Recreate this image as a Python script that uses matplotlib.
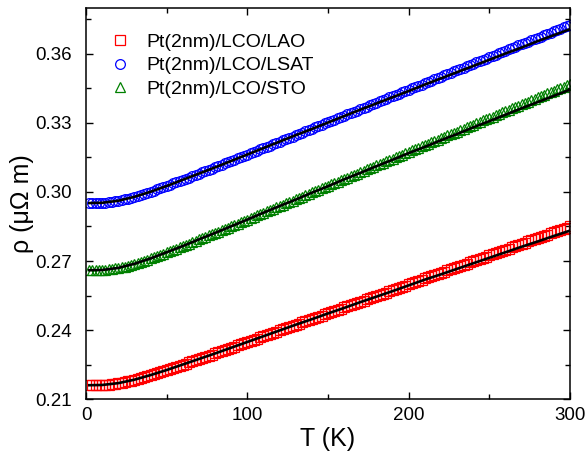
import matplotlib
matplotlib.use('Agg')
import matplotlib.pyplot as plt
from matplotlib.ticker import MultipleLocator, FormatStrFormatter

plt.rcParams['font.family'] = ['Liberation Sans', 'DejaVu Sans']

# temperature grid of the measured points (K)
T = list(range(2, 301, 2))

# resistivity (uOhm m)
rho_lao = [
    0.2160, 0.2160, 0.2160, 0.2161, 0.2161, 0.2162, 0.2163, 0.2165, 0.2167, 0.2169,
    0.2171, 0.2174, 0.2177, 0.2180, 0.2184, 0.2188, 0.2191, 0.2195, 0.2200, 0.2204,
    0.2208, 0.2212, 0.2217, 0.2221, 0.2226, 0.2231, 0.2235, 0.2240, 0.2245, 0.2250,
    0.2254, 0.2259, 0.2264, 0.2269, 0.2274, 0.2279, 0.2284, 0.2288, 0.2293, 0.2298,
    0.2303, 0.2308, 0.2313, 0.2318, 0.2323, 0.2328, 0.2333, 0.2338, 0.2343, 0.2348,
    0.2353, 0.2358, 0.2363, 0.2368, 0.2373, 0.2378, 0.2383, 0.2388, 0.2393, 0.2398,
    0.2403, 0.2408, 0.2413, 0.2418, 0.2423, 0.2428, 0.2433, 0.2438, 0.2443, 0.2448,
    0.2453, 0.2458, 0.2463, 0.2468, 0.2473, 0.2478, 0.2483, 0.2488, 0.2493, 0.2498,
    0.2503, 0.2508, 0.2513, 0.2518, 0.2523, 0.2528, 0.2533, 0.2538, 0.2543, 0.2548,
    0.2553, 0.2558, 0.2563, 0.2568, 0.2573, 0.2578, 0.2583, 0.2588, 0.2593, 0.2599,
    0.2604, 0.2609, 0.2614, 0.2619, 0.2624, 0.2629, 0.2634, 0.2639, 0.2644, 0.2649,
    0.2654, 0.2659, 0.2664, 0.2669, 0.2674, 0.2679, 0.2684, 0.2689, 0.2694, 0.2699,
    0.2704, 0.2709, 0.2714, 0.2719, 0.2724, 0.2729, 0.2734, 0.2739, 0.2744, 0.2749,
    0.2754, 0.2759, 0.2765, 0.2770, 0.2775, 0.2780, 0.2785, 0.2790, 0.2795, 0.2800,
    0.2805, 0.2810, 0.2815, 0.2820, 0.2825, 0.2830, 0.2835, 0.2840, 0.2845, 0.2850,
]
rho_lsat = [
    0.2952, 0.2952, 0.2952, 0.2953, 0.2953, 0.2954, 0.2956, 0.2957, 0.2959, 0.2962,
    0.2965, 0.2968, 0.2971, 0.2975, 0.2979, 0.2983, 0.2987, 0.2992, 0.2996, 0.3001,
    0.3006, 0.3011, 0.3016, 0.3021, 0.3026, 0.3031, 0.3037, 0.3042, 0.3047, 0.3053,
    0.3058, 0.3063, 0.3069, 0.3074, 0.3080, 0.3085, 0.3091, 0.3096, 0.3102, 0.3107,
    0.3113, 0.3118, 0.3124, 0.3129, 0.3135, 0.3141, 0.3146, 0.3152, 0.3157, 0.3163,
    0.3169, 0.3174, 0.3180, 0.3185, 0.3191, 0.3197, 0.3202, 0.3208, 0.3213, 0.3219,
    0.3225, 0.3230, 0.3236, 0.3241, 0.3247, 0.3253, 0.3258, 0.3264, 0.3270, 0.3275,
    0.3281, 0.3287, 0.3292, 0.3298, 0.3303, 0.3309, 0.3315, 0.3320, 0.3326, 0.3332,
    0.3337, 0.3343, 0.3349, 0.3354, 0.3360, 0.3365, 0.3371, 0.3377, 0.3382, 0.3388,
    0.3394, 0.3399, 0.3405, 0.3411, 0.3416, 0.3422, 0.3428, 0.3433, 0.3439, 0.3444,
    0.3450, 0.3456, 0.3461, 0.3467, 0.3473, 0.3478, 0.3484, 0.3490, 0.3495, 0.3501,
    0.3507, 0.3512, 0.3518, 0.3524, 0.3529, 0.3535, 0.3541, 0.3546, 0.3552, 0.3557,
    0.3563, 0.3569, 0.3574, 0.3580, 0.3586, 0.3591, 0.3597, 0.3603, 0.3608, 0.3614,
    0.3620, 0.3625, 0.3631, 0.3637, 0.3642, 0.3648, 0.3654, 0.3659, 0.3665, 0.3671,
    0.3676, 0.3682, 0.3687, 0.3693, 0.3699, 0.3704, 0.3710, 0.3716, 0.3721, 0.3727,
]
rho_sto = [
    0.2660, 0.2660, 0.2660, 0.2661, 0.2661, 0.2662, 0.2664, 0.2666, 0.2668, 0.2670,
    0.2673, 0.2676, 0.2680, 0.2684, 0.2688, 0.2692, 0.2697, 0.2702, 0.2706, 0.2711,
    0.2716, 0.2722, 0.2727, 0.2732, 0.2738, 0.2743, 0.2749, 0.2754, 0.2760, 0.2765,
    0.2771, 0.2776, 0.2782, 0.2788, 0.2794, 0.2799, 0.2805, 0.2811, 0.2817, 0.2822,
    0.2828, 0.2834, 0.2840, 0.2845, 0.2851, 0.2857, 0.2863, 0.2869, 0.2875, 0.2880,
    0.2886, 0.2892, 0.2898, 0.2904, 0.2910, 0.2916, 0.2921, 0.2927, 0.2933, 0.2939,
    0.2945, 0.2951, 0.2957, 0.2963, 0.2968, 0.2974, 0.2980, 0.2986, 0.2992, 0.2998,
    0.3004, 0.3010, 0.3016, 0.3021, 0.3027, 0.3033, 0.3039, 0.3045, 0.3051, 0.3057,
    0.3063, 0.3069, 0.3074, 0.3080, 0.3086, 0.3092, 0.3098, 0.3104, 0.3110, 0.3116,
    0.3122, 0.3128, 0.3133, 0.3139, 0.3145, 0.3151, 0.3157, 0.3163, 0.3169, 0.3175,
    0.3181, 0.3187, 0.3192, 0.3198, 0.3204, 0.3210, 0.3216, 0.3222, 0.3228, 0.3234,
    0.3240, 0.3246, 0.3252, 0.3257, 0.3263, 0.3269, 0.3275, 0.3281, 0.3287, 0.3293,
    0.3299, 0.3305, 0.3311, 0.3317, 0.3322, 0.3328, 0.3334, 0.3340, 0.3346, 0.3352,
    0.3358, 0.3364, 0.3370, 0.3376, 0.3382, 0.3387, 0.3393, 0.3399, 0.3405, 0.3411,
    0.3417, 0.3423, 0.3429, 0.3435, 0.3441, 0.3447, 0.3452, 0.3458, 0.3464, 0.3470,
]

# fitted curves (black lines)
T_fit = [2, 10, 20, 30, 40, 50, 60, 70, 80, 90, 100, 110, 120, 130, 140, 150,
         160, 170, 180, 190, 200, 210, 220, 230, 240, 250, 260, 270, 280, 290, 300]
fit_lao = [0.2160, 0.2161, 0.2169, 0.2184, 0.2204, 0.2226, 0.2250, 0.2274, 0.2298, 0.2323,
           0.2348, 0.2373, 0.2398, 0.2423, 0.2447, 0.2472, 0.2496, 0.2521, 0.2545, 0.2569,
           0.2594, 0.2619, 0.2642, 0.2666, 0.2690, 0.2714, 0.2738, 0.2762, 0.2785, 0.2809,
           0.2832]
fit_lsat = [0.2952, 0.2953, 0.2962, 0.2979, 0.3001, 0.3026, 0.3053, 0.3080, 0.3107, 0.3135,
            0.3163, 0.3191, 0.3219, 0.3247, 0.3274, 0.3302, 0.3330, 0.3358, 0.3385, 0.3412,
            0.3439, 0.3467, 0.3494, 0.3521, 0.3548, 0.3575, 0.3602, 0.3628, 0.3656, 0.3682,
            0.3708]
fit_sto = [0.2660, 0.2661, 0.2670, 0.2688, 0.2711, 0.2738, 0.2765, 0.2794, 0.2822, 0.2851,
           0.2880, 0.2910, 0.2939, 0.2967, 0.2997, 0.3025, 0.3055, 0.3083, 0.3112, 0.3140,
           0.3169, 0.3196, 0.3225, 0.3252, 0.3281, 0.3308, 0.3336, 0.3364, 0.3391, 0.3418,
           0.3445]

labels = ['Pt(2nm)/LCO/LAO', 'Pt(2nm)/LCO/LSAT', 'Pt(2nm)/LCO/STO']

fig = plt.figure(figsize=(5.86, 4.59), dpi=100)
ax = fig.add_axes([0.1468, 0.1307, 0.8259, 0.8519])

h1, = ax.plot(T, rho_lao, 's', ms=6.5, mfc='none', mec='#ff0000', mew=0.9, label=labels[0])
h2, = ax.plot(T, rho_lsat, 'o', ms=7, mfc='none', mec='#0000ff', mew=0.9, label=labels[1])
h3, = ax.plot(T, rho_sto, '^', ms=7, mfc='none', mec='#008000', mew=0.9, label=labels[2])

for f in (fit_lao, fit_lsat, fit_sto):
    ax.plot(T_fit, f, '-', color='black', lw=1.9)

ax.set_xlim(0, 300)
ax.set_ylim(0.21, 0.38)
ax.xaxis.set_major_locator(MultipleLocator(100))
ax.xaxis.set_minor_locator(MultipleLocator(50))
ax.yaxis.set_major_locator(MultipleLocator(0.03))
ax.yaxis.set_minor_locator(MultipleLocator(0.015))
ax.yaxis.set_major_formatter(FormatStrFormatter('%.2f'))
ax.tick_params(which='both', direction='in', top=True, right=True, width=1.0, labelsize=13.5)
ax.tick_params(which='major', length=5)
ax.tick_params(which='minor', length=3.5)
ax.tick_params(axis='y', which='major', pad=10)
ax.tick_params(axis='x', which='major', pad=6)
for s in ax.spines.values():
    s.set_linewidth(1.1)

ax.set_xlabel('T (K)', fontsize=18, labelpad=2)
ax.set_ylabel('ρ (μΩ m)', fontsize=18, labelpad=1)

ax.legend(handles=[h1, h2, h3], loc='upper left', frameon=False, fontsize=14,
          handlelength=1.0, handletextpad=0.85, labelspacing=0.3, borderaxespad=0.0,
          bbox_to_anchor=(0.035, 0.955))

fig.savefig('out.png', dpi=100)
